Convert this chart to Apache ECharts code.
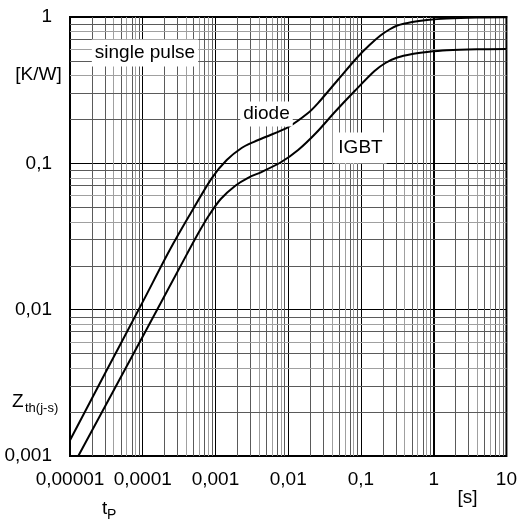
<!DOCTYPE html>
<html>
<head>
<meta charset="utf-8">
<title>Zth(j-s)</title>
<style>
  * { margin: 0; padding: 0; }
  body { background: #fff; width: 520px; height: 522px; overflow: hidden; }
  #chart { width: 520px; height: 522px; }
</style>
<script src="https://cdn.jsdelivr.net/npm/echarts@6/dist/echarts.min.js"></script>
</head>
<body>
<div id="chart"></div>
<script>
// tick labels (decimal comma, as in the datasheet)
const xTickLabels = ['0,00001', '0,0001', '0,001', '0,01', '0,1', '1', '10'];
const yTickLabels = ['0,001', '0,01', '0,1', '1'];

// diode curve: t [s] / Zth [K/W]
const diodeT = [1e-5, 3e-5, 1e-4, 2.31e-4, 4.33e-4, 8.91e-4, 1.428e-3, 2.286e-3, 3.33e-3, 4.86e-3, 0.01, 0.01874, 0.0257, 0.048, 0.09, 0.1313, 0.1854, 0.246, 0.3162, 0.5064, 0.811, 1.52, 3.9, 10];
const diodeZ = [0.00128, 0.00363, 0.0113, 0.02515, 0.0436, 0.0793, 0.1053, 0.1272, 0.1398, 0.1513, 0.177, 0.2207, 0.258, 0.371, 0.533, 0.6437, 0.7473, 0.8214, 0.8747, 0.9243, 0.9539, 0.9767, 0.9922, 0.9968];

// IGBT curve
const igbtT = [1.3e-5, 1e-4, 4.1e-4, 5.93e-4, 8.11e-4, 1.182e-3, 1.894e-3, 2.847e-3, 4.282e-3, 8.027e-3, 0.01369, 0.0241, 0.04375, 0.08195, 0.1536, 0.217, 0.3162, 0.5064, 0.811, 1.52, 3.9, 10];
const igbtZ = [0.001, 0.00656, 0.02425, 0.0339, 0.044, 0.05702, 0.07052, 0.0799, 0.0872, 0.1021, 0.1233, 0.1611, 0.2242, 0.3119, 0.4275, 0.485, 0.5287, 0.5585, 0.5765, 0.5921, 0.6015, 0.6044];

// minor grid (2..9 inside each decade), placed on hidden linear axes in log10 units
const xDecadeExp = [-5, -4, -3, -2, -1, 0];
const yDecadeExp = [-3, -2, -1];
const minorSteps = [2, 3, 4, 5, 6, 7, 8, 9];
const minorColor = { 2: '#5a5a5a', 3: '#5a5a5a', 4: '#a0a0a0', 5: '#5a5a5a', 6: '#a0a0a0', 7: '#5a5a5a', 8: '#a0a0a0', 9: '#5a5a5a' };

const FONT = '"Liberation Sans", Arial, sans-serif';

const minorLines = [];
xDecadeExp.forEach(e => minorSteps.forEach(m => {
  minorLines.push({ xAxis: e + Math.log10(m), lineStyle: { color: minorColor[m] } });
}));
yDecadeExp.forEach(e => minorSteps.forEach(m => {
  minorLines.push({ yAxis: e + Math.log10(m), lineStyle: { color: minorColor[m] } });
}));

const pairs = (ts, zs) => ts.map((t, i) => [t, zs[i]]);

const chart = echarts.init(document.getElementById('chart'));

chart.setOption({
  animation: false,
  backgroundColor: '#fff',
  textStyle: { fontFamily: FONT },
  grid: {
    left: 70, top: 17, width: 440, height: 439,
    show: true, borderColor: '#000', borderWidth: 2, backgroundColor: 'transparent'
  },
  xAxis: [
    {
      type: 'log', logBase: 10, min: 1e-5, max: 10, splitNumber: 6,
      axisLine: { show: true, lineStyle: { color: '#000', width: 2 } },
      axisTick: { show: false },
      splitLine: { show: true, lineStyle: { color: '#000', width: 1 } },
      axisLabel: {
        color: '#000', fontSize: 19, fontFamily: FONT, margin: 14,
        formatter: v => xTickLabels[Math.round(Math.log10(v)) + 5]
      },
      z: 3
    },
    { type: 'value', min: -5, max: 1, show: false }
  ],
  yAxis: [
    {
      type: 'log', logBase: 10, min: 0.001, max: 1, splitNumber: 3,
      axisLine: { show: true, lineStyle: { color: '#000', width: 2 } },
      axisTick: { show: false },
      splitLine: { show: true, lineStyle: { color: '#000', width: 1 } },
      axisLabel: {
        color: '#000', fontSize: 19, fontFamily: FONT, margin: 18,
        formatter: v => yTickLabels[Math.round(Math.log10(v)) + 3]
      },
      z: 3
    },
    { type: 'value', min: -3, max: 0, show: false }
  ],
  series: [
    {
      type: 'line', name: 'grid', data: [], silent: true, z: 1,
      xAxisIndex: 1, yAxisIndex: 1,
      markLine: {
        silent: true, symbol: ['none', 'none'], animation: false,
        label: { show: false },
        lineStyle: { type: 'solid', width: 1 },
        data: minorLines
      }
    },
    {
      type: 'line', name: 'diode', data: pairs(diodeT, diodeZ),
      smooth: 0.3, showSymbol: false, z: 5,
      lineStyle: { color: '#000', width: 2 }
    },
    {
      type: 'line', name: 'IGBT', data: pairs(igbtT, igbtZ),
      smooth: 0.3, showSymbol: false, z: 5,
      lineStyle: { color: '#000', width: 2 }
    }
  ],
  graphic: [
    { type: 'text', z: 10, x: 145, y: 53, style: { text: 'single pulse', font: '19px ' + FONT, fill: '#000', align: 'center', verticalAlign: 'middle', backgroundColor: '#fff', padding: [4, 3] } },
    { type: 'text', z: 10, x: 38.5, y: 75, style: { text: '[K/W]', font: '19px ' + FONT, fill: '#000', align: 'center', verticalAlign: 'middle' } },
    { type: 'text', z: 10, x: 266.5, y: 114, style: { text: 'diode', font: '19px ' + FONT, fill: '#000', align: 'center', verticalAlign: 'middle', backgroundColor: '#fff', padding: [3, 3] } },
    { type: 'text', z: 10, x: 360.5, y: 148, style: { text: 'IGBT', font: '19px ' + FONT, fill: '#000', align: 'center', verticalAlign: 'middle', backgroundColor: '#fff', padding: [6, 4] } },
    { type: 'text', z: 10, x: 12, y: 401.5, style: { text: 'Z', font: '19px ' + FONT, fill: '#000', align: 'left', verticalAlign: 'middle' } },
    { type: 'text', z: 10, x: 25, y: 408.5, style: { text: 'th(j-s)', font: '13px ' + FONT, fill: '#000', align: 'left', verticalAlign: 'middle' } },
    { type: 'text', z: 10, x: 102, y: 508.5, style: { text: 't', font: '19px ' + FONT, fill: '#000', align: 'left', verticalAlign: 'middle' } },
    { type: 'text', z: 10, x: 107, y: 515, style: { text: 'P', font: '14px ' + FONT, fill: '#000', align: 'left', verticalAlign: 'middle' } },
    { type: 'text', z: 10, x: 467.5, y: 497.5, style: { text: '[s]', font: '19px ' + FONT, fill: '#000', align: 'center', verticalAlign: 'middle' } }
  ]
});
</script>
</body>
</html>
